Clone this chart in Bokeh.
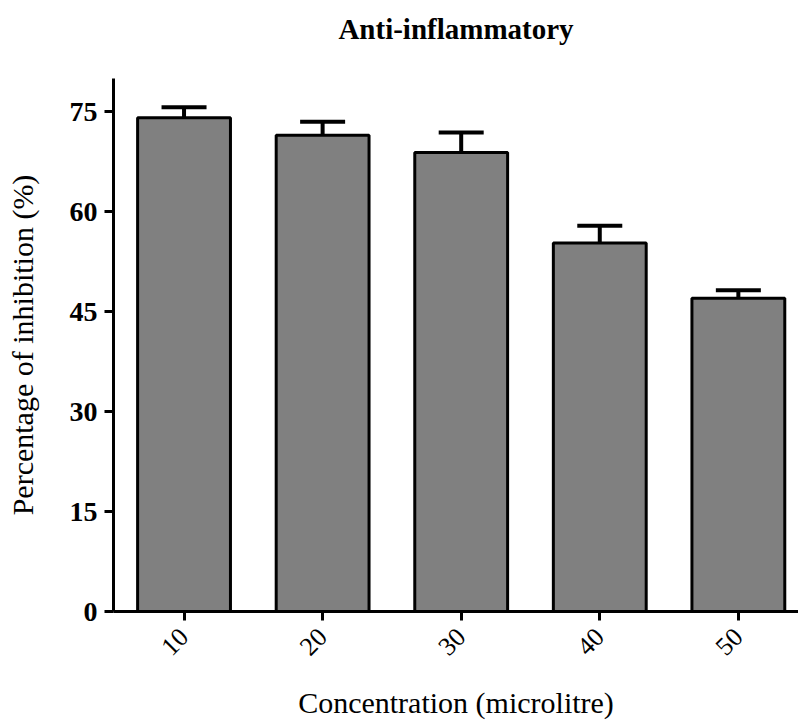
import math
from bokeh.plotting import figure
from bokeh.models import ColumnDataSource, Range1d, FixedTicker, Whisker, TeeHead
from bokeh.embed import file_html
from bokeh.resources import INLINE

concentrations = ["10", "20", "30", "40", "50"]
inhibition = [74.1, 71.5, 68.9, 55.3, 47.0]
error = [1.6, 2.0, 3.0, 2.6, 1.2]
y_ticks = [0, 15, 30, 45, 60, 75]
title_text = "Anti-inflammatory"

xpos = list(range(1, len(concentrations) + 1))
src = ColumnDataSource(dict(
    x=xpos, top=inhibition,
    upper=[v + e for v, e in zip(inhibition, error)],
    cat=concentrations))

FONT = "Liberation Serif"

p = figure(width=798, height=721, output_backend="svg", toolbar_location=None,
           x_range=Range1d(0.491, 5.434), y_range=Range1d(0, 80),
           min_border_left=113, min_border_right=0, min_border_top=78,
           min_border_bottom=110)

# a trailing blank line lifts the title higher above the frame
p.title.text = title_text + "\n "
p.title.align = "center"
p.title.vertical_align = "bottom"
p.title.standoff = 4
p.title.text_font = FONT
p.title.text_font_style = "bold"
p.title.text_font_size = "29px"
p.title.text_color = "black"

p.outline_line_color = None
p.xgrid.grid_line_color = None
p.ygrid.grid_line_color = None
p.background_fill_color = "white"
p.border_fill_color = "white"

whisk = Whisker(base="x", upper="upper", lower="top", source=src,
                line_width=4, line_color="black",
                upper_head=TeeHead(size=45, line_width=4, line_color="black"),
                lower_head=None)
p.add_layout(whisk)

p.vbar(x="x", top="top", bottom=0, width=0.67, source=src,
       fill_color="#808080", line_color="black", line_width=3)

for ax in (p.xaxis[0], p.yaxis[0]):
    ax.axis_line_width = 3
    ax.axis_line_color = "black"
    ax.major_tick_line_width = 3
    ax.major_tick_line_color = "black"
    ax.major_tick_out = 9
    ax.major_tick_in = 0
    ax.minor_tick_line_color = None
    ax.axis_label_text_font = FONT
    ax.axis_label_text_font_style = "normal"
    ax.axis_label_text_font_size = "30px"
    ax.axis_label_text_color = "black"
    ax.major_label_text_font = FONT
    ax.major_label_text_color = "black"

p.xaxis.ticker = FixedTicker(ticks=xpos)
p.xaxis.major_label_overrides = {x: c for x, c in zip(xpos, concentrations)}
p.xaxis.major_label_orientation = math.pi / 4
p.xaxis.major_label_text_font_size = "26px"
p.xaxis.major_label_standoff = 12
p.xaxis.axis_label = "Concentration (microlitre)"
p.xaxis.axis_label_standoff = 20

p.yaxis.ticker = FixedTicker(ticks=y_ticks)
p.yaxis.major_label_text_font_size = "28px"
p.yaxis.major_label_text_font_style = "bold"
p.yaxis.major_label_standoff = 7
p.yaxis.axis_label = "Percentage of inhibition (%)"
p.yaxis.axis_label_standoff = 28

open("out.html", "w").write(file_html(p, INLINE))
